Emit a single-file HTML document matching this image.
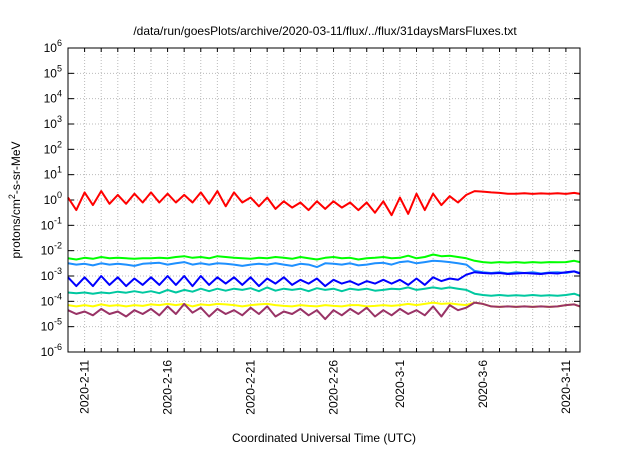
<!DOCTYPE html>
<html><head><meta charset="utf-8"><style>
body{margin:0;background:#fff;}
svg{font-family:"Liberation Sans",sans-serif;}
</style></head><body>
<svg id="c" width="640" height="448"></svg>
<script>
const redVals=[0.1,-0.4,0.3,-0.2,0.35,-0.15,0.2,-0.15,0.25,-0.1,0.3,-0.1,0.25,-0.1,0.2,-0.1,0.3,-0.15,0.35,-0.25,0.3,-0.1,0.1,-0.25,0.1,-0.35,-0.05,-0.3,-0.1,-0.4,-0.05,-0.35,-0.05,-0.3,-0.1,-0.4,-0.1,-0.5,-0.05,-0.6,0.1,-0.55,0.25,-0.4,0.25,-0.2,0.15,-0.1,0.2,0.35,0.33,0.3,0.28,0.25,0.25,0.27,0.24,0.26,0.25,0.27,0.24,0.28,0.24];
const greenVals=[-2.3,-2.35,-2.28,-2.32,-2.25,-2.3,-2.28,-2.3,-2.32,-2.3,-2.3,-2.28,-2.3,-2.25,-2.22,-2.28,-2.25,-2.3,-2.22,-2.25,-2.28,-2.3,-2.32,-2.28,-2.3,-2.25,-2.28,-2.32,-2.25,-2.3,-2.35,-2.28,-2.25,-2.3,-2.28,-2.35,-2.3,-2.28,-2.25,-2.3,-2.28,-2.2,-2.3,-2.25,-2.15,-2.22,-2.2,-2.25,-2.3,-2.4,-2.45,-2.48,-2.45,-2.47,-2.45,-2.48,-2.45,-2.47,-2.45,-2.46,-2.45,-2.4,-2.45];
const lightBlueVals=[-2.5,-2.55,-2.52,-2.58,-2.5,-2.55,-2.52,-2.55,-2.6,-2.52,-2.5,-2.48,-2.55,-2.5,-2.45,-2.55,-2.5,-2.55,-2.5,-2.52,-2.55,-2.6,-2.55,-2.52,-2.55,-2.5,-2.55,-2.6,-2.52,-2.55,-2.65,-2.5,-2.52,-2.55,-2.5,-2.58,-2.55,-2.5,-2.48,-2.55,-2.45,-2.42,-2.5,-2.45,-2.4,-2.42,-2.45,-2.5,-2.55,-2.8,-2.85,-2.88,-2.85,-2.9,-2.85,-2.88,-2.85,-2.9,-2.86,-2.85,-2.88,-2.82,-2.88];
const blueVals=[-3.05,-3.4,-3.05,-3.4,-3.0,-3.35,-3.05,-3.4,-3.1,-3.35,-3.05,-3.35,-3.0,-3.35,-3.0,-3.4,-3.0,-3.35,-3.05,-3.3,-3.05,-3.35,-3.05,-3.4,-3.1,-3.3,-3.05,-3.35,-3.15,-3.3,-3.1,-3.4,-3.15,-3.3,-3.2,-3.35,-3.2,-3.3,-3.15,-3.3,-3.15,-3.35,-3.1,-3.35,-3.05,-3.2,-3.1,-3.15,-2.95,-2.85,-2.88,-2.9,-2.88,-2.92,-2.9,-2.88,-2.9,-2.92,-2.88,-2.9,-2.85,-2.82,-2.9];
const tealVals=[-3.65,-3.68,-3.65,-3.7,-3.65,-3.68,-3.62,-3.66,-3.6,-3.66,-3.6,-3.68,-3.55,-3.65,-3.55,-3.62,-3.5,-3.6,-3.5,-3.58,-3.5,-3.55,-3.48,-3.6,-3.45,-3.58,-3.5,-3.55,-3.5,-3.6,-3.48,-3.55,-3.5,-3.6,-3.5,-3.55,-3.5,-3.58,-3.55,-3.5,-3.52,-3.45,-3.55,-3.5,-3.45,-3.5,-3.45,-3.5,-3.55,-3.7,-3.75,-3.78,-3.75,-3.78,-3.76,-3.78,-3.75,-3.78,-3.76,-3.78,-3.75,-3.7,-3.78];
const yellowVals=[-4.15,-4.2,-4.15,-4.2,-4.12,-4.18,-4.15,-4.2,-4.15,-4.18,-4.12,-4.15,-4.1,-4.15,-4.1,-4.2,-4.12,-4.15,-4.1,-4.12,-4.15,-4.2,-4.15,-4.12,-4.1,-4.15,-4.18,-4.2,-4.15,-4.18,-4.2,-4.15,-4.18,-4.2,-4.15,-4.15,-4.2,-4.18,-4.15,-4.18,-4.15,-4.1,-4.15,-4.1,-4.05,-4.1,-4.08,-4.12,-4.15,-4.05,-4.1,-4.2,-4.22,-4.2,-4.22,-4.2,-4.22,-4.2,-4.22,-4.2,-4.15,-4.12,-4.2];
const purpleVals=[-4.35,-4.5,-4.4,-4.55,-4.3,-4.5,-4.4,-4.6,-4.35,-4.5,-4.3,-4.55,-4.2,-4.5,-4.1,-4.45,-4.25,-4.6,-4.3,-4.5,-4.35,-4.55,-4.25,-4.5,-4.2,-4.6,-4.4,-4.5,-4.3,-4.55,-4.35,-4.7,-4.35,-4.55,-4.3,-4.5,-4.25,-4.6,-4.35,-4.55,-4.3,-4.5,-4.35,-4.55,-4.2,-4.6,-4.15,-4.35,-4.25,-4.05,-4.1,-4.2,-4.22,-4.2,-4.22,-4.2,-4.22,-4.2,-4.22,-4.2,-4.15,-4.12,-4.2];
const dayStep=0.5;
const yTickExps=[-6,-5,-4,-3,-2,-1,0,1,2,3,4,5,6];
const xTickDays=[1,6,11,16,20,25,30];
const xTickLabels=["2020-2-11","2020-2-16","2020-2-21","2020-2-26","2020-3-1","2020-3-6","2020-3-11"];
const totalDays=30.85;

const NS="http://www.w3.org/2000/svg";
const svg=document.getElementById('c');
const L=68,R=580,T=48,B=352;
const xs=d=>L+d/totalDays*(R-L);
const ys=e=>B-(e+6)/12*(B-T);
function mk(tag,attrs,parent){const el=document.createElementNS(NS,tag);for(const k in attrs)el.setAttribute(k,attrs[k]);(parent||svg).appendChild(el);return el;}

const grid=mk('g',{});


for(let d=0;d<=30;d++){const x=xs(d);mk('line',{x1:x,x2:x,y1:T,y2:B,stroke:'#bbb','stroke-dasharray':'1,2','stroke-width':1},grid);
 mk('line',{x1:x,x2:x,y1:B,y2:B-4,stroke:'#000'},grid);mk('line',{x1:x,x2:x,y1:T,y2:T+4,stroke:'#000'},grid);}
yTickExps.forEach(e=>{const y=ys(e);
 mk('line',{x1:L,x2:R,y1:y,y2:y,stroke:'#bbb','stroke-dasharray':'1,2'},grid);
 mk('line',{x1:L,x2:L+6,y1:y,y2:y,stroke:'#000'},grid);mk('line',{x1:R-6,x2:R,y1:y,y2:y,stroke:'#000'},grid);
 const t=mk('text',{x:62,y:y+4,'text-anchor':'end','font-size':12});
 
 
 t.textContent='10';const s=mk('tspan',{dy:-6,'font-size':9},t);s.textContent=e;});
xTickDays.forEach((d,i)=>{const x=xs(d);
 const t=mk('text',{x:0,y:0,'text-anchor':'end','font-size':12,transform:`translate(${x+4},360) rotate(-90)`});
 
 
 t.textContent=xTickLabels[i];});

const series=[[redVals,'#ff0000','red-series'],[greenVals,'#00ff00','green-series'],[lightBlueVals,'#1e90ff','lightblue-series'],[tealVals,'#00c8a0','teal-series'],[yellowVals,'#ffff00','yellow-series'],[purpleVals,'#993366','purple-series'],[blueVals,'#0000ff','blue-series']];
series.forEach(([v,c,n])=>{const pts=v.map((e,i)=>xs(Math.min(i*dayStep,totalDays)).toFixed(1)+','+ys(e).toFixed(1)).join(' ');
 const p=mk('polyline',{points:pts,fill:'none',stroke:c,'stroke-width':2,'stroke-linejoin':'round'});
 
 });

const fr=mk('rect',{x:L,y:T,width:R-L,height:B-T,fill:'none',stroke:'#000'});


const ti=mk('text',{x:325,y:35,'text-anchor':'middle','font-size':12});


ti.textContent='/data/run/goesPlots/archive/2020-03-11/flux/../flux/31daysMarsFluxes.txt';
const xt=mk('text',{x:324,y:442,'text-anchor':'middle','font-size':12});


xt.textContent='Coordinated Universal Time (UTC)';
const yt=mk('text',{x:0,y:0,'text-anchor':'middle','font-size':12,transform:'translate(20,200) rotate(-90)'});


yt.textContent='protons/cm';const s2=mk('tspan',{dy:-5,'font-size':9},yt);s2.textContent='2';const s3=mk('tspan',{dy:5},yt);s3.textContent='-s-sr-MeV';
</script>
</body></html>
